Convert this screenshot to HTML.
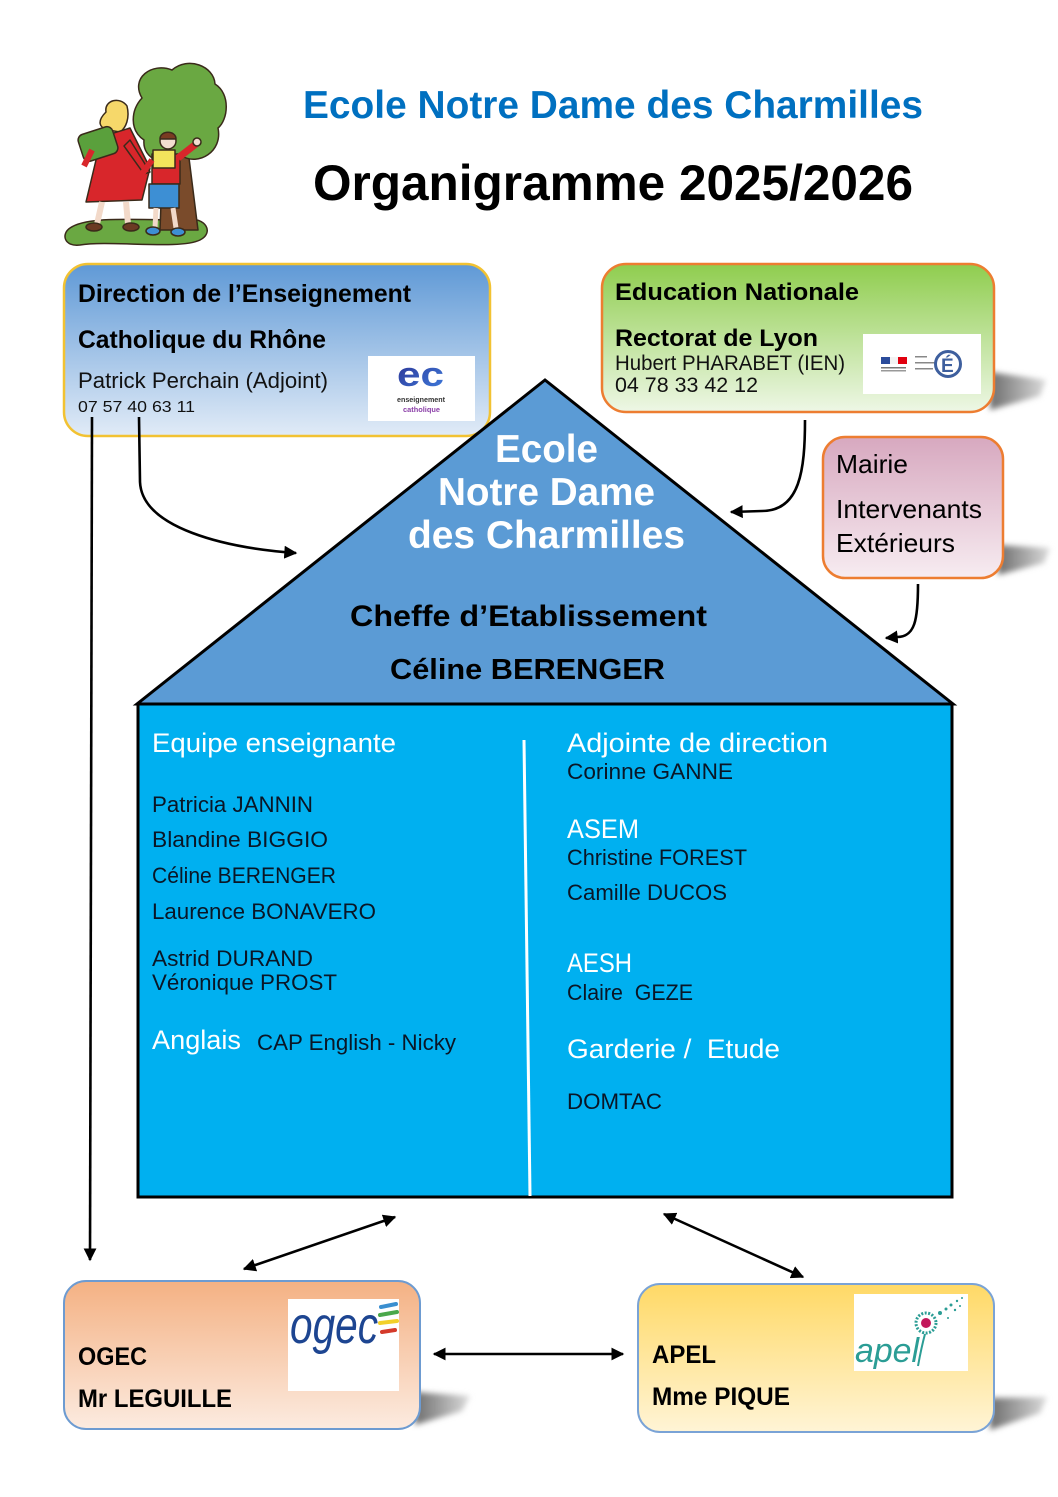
<!DOCTYPE html>
<html><head><meta charset="utf-8"><style>
html,body{margin:0;padding:0;background:#fff;}
svg{display:block;}
text{font-family:"Liberation Sans",Arial,sans-serif;}
</style></head><body>
<svg width="1058" height="1497" viewBox="0 0 1058 1497" xmlns="http://www.w3.org/2000/svg">
<defs>
<linearGradient id="gDir" x1="0" y1="0" x2="0" y2="1"><stop offset="0" stop-color="#5f99d6"/><stop offset="1" stop-color="#e1ebf7"/></linearGradient>
<linearGradient id="gEdu" x1="0" y1="0" x2="0" y2="1"><stop offset="0" stop-color="#8fcd4e"/><stop offset="1" stop-color="#eef7e6"/></linearGradient>
<linearGradient id="gMai" x1="0" y1="0" x2="0" y2="1"><stop offset="0" stop-color="#d7a8bf"/><stop offset="1" stop-color="#f7ecf1"/></linearGradient>
<linearGradient id="gOg" x1="0" y1="0" x2="0" y2="1"><stop offset="0" stop-color="#f4b183"/><stop offset="1" stop-color="#fcebe0"/></linearGradient>
<linearGradient id="gAp" x1="0" y1="0" x2="0" y2="1"><stop offset="0" stop-color="#ffd966"/><stop offset="1" stop-color="#fff4d6"/></linearGradient>
<linearGradient id="gSh" x1="0" y1="0" x2="1" y2="0"><stop offset="0" stop-color="#6e6e6e"/><stop offset="1" stop-color="#dcdcdc"/></linearGradient>
<linearGradient id="gEc" x1="0" y1="0" x2="1" y2="1"><stop offset="0" stop-color="#2b2f8f"/><stop offset="1" stop-color="#3f7fe0"/></linearGradient>
<filter id="bl" x="-20%" y="-50%" width="140%" height="200%"><feGaussianBlur stdDeviation="3"/></filter>
<marker id="ah" viewBox="0 0 10 10" refX="9" refY="5" markerWidth="5" markerHeight="5" orient="auto-start-reverse" markerUnits="strokeWidth"><path d="M0,0 L10,5 L0,10 Z" fill="#000"/></marker>
</defs>

<!-- Logo drawing -->
<g stroke="#3a2a1a" stroke-width="1.5" stroke-linejoin="round">
  <path d="M70 228 C 90 214, 150 222, 185 219 C 207 217, 214 233, 200 240 C 180 250, 110 240, 80 245 C 64 247, 61 234, 70 228 Z" fill="#6aa842"/>
  <path d="M163 150 L188 150 L198 230 L160 230 Z" fill="#7a4b2b"/>
  <path d="M142 98 C 130 78, 152 62, 172 70 C 188 56, 214 66, 215 84 C 231 94, 228 120, 218 128 C 223 152, 198 166, 182 156 C 166 168, 142 160, 144 140 C 129 130, 131 110, 142 98 Z" fill="#6aa842"/>
  <!-- girl -->
  <path d="M106 112 C 104 100, 120 96, 127 106 C 130 118, 126 128, 120 132 L108 130 C 100 128, 96 122, 106 112 Z" fill="#f6d86a"/>
  <path d="M104 136 L130 128 L150 168 L142 200 L86 202 L96 160 Z" fill="#d8262b"/>
  <path d="M130 140 L150 172 L144 174 L124 146 Z" fill="#d8262b"/>
  <rect x="80" y="130" width="36" height="28" rx="6" transform="rotate(-18 98 144)" fill="#5aa03c"/>
  <path d="M102 202 L97 224 M126 202 L128 224" stroke="#f2d9c9" stroke-width="6"/>
  <ellipse cx="94" cy="227" rx="8" ry="4" fill="#6b3a23"/>
  <ellipse cx="131" cy="227" rx="8" ry="4" fill="#6b3a23"/>
  <path d="M92 150 L84 166" stroke="#d8262b" stroke-width="6"/>
  <!-- boy -->
  <circle cx="168" cy="141" r="8" fill="#f3ddd0"/>
  <path d="M160 139 C 160 130, 176 130, 176 139 Z" fill="#7a3b22"/>
  <rect x="152" y="154" width="28" height="30" fill="#d8262b"/>
  <rect x="153" y="150" width="22" height="18" fill="#f2e45c"/>
  <path d="M178 158 L196 144" stroke="#d8262b" stroke-width="7"/>
  <circle cx="197" cy="142" r="4" fill="#f3ddd0"/>
  <path d="M152 160 L142 174" stroke="#d8262b" stroke-width="6"/>
  <rect x="149" y="184" width="30" height="24" fill="#3d8fd4"/>
  <path d="M156 208 L155 228 M173 208 L176 228" stroke="#f2d9c9" stroke-width="5"/>
  <ellipse cx="153" cy="231" rx="7" ry="4" fill="#3d8fd4"/>
  <ellipse cx="178" cy="232" rx="7" ry="4" fill="#3d8fd4"/>
</g>

<!-- Titles -->
<text x="303" y="118" font-size="39" font-weight="bold" fill="#0070c0" textLength="620" lengthAdjust="spacingAndGlyphs">Ecole Notre Dame des Charmilles</text>
<text x="313" y="200" font-size="50" font-weight="bold" fill="#000" textLength="600" lengthAdjust="spacingAndGlyphs">Organigramme 2025/2026</text>

<!-- shadows -->
<polygon points="990,372 1046,380 1040,396 990,410" fill="url(#gSh)" filter="url(#bl)"/>
<polygon points="998,545 1050,548 1044,563 998,575" fill="url(#gSh)" filter="url(#bl)"/>
<polygon points="415,1392 470,1396 462,1411 415,1425" fill="url(#gSh)" filter="url(#bl)"/>
<polygon points="990,1398 1047,1397 1040,1413 990,1430" fill="url(#gSh)" filter="url(#bl)"/>

<!-- Direction box -->
<rect x="64" y="264" width="426" height="172" rx="24" fill="url(#gDir)" stroke="#f2c232" stroke-width="2.5"/>
<text x="78" y="302" font-size="25" font-weight="bold" fill="#000" textLength="333" lengthAdjust="spacingAndGlyphs">Direction de l’Enseignement</text>
<text x="78" y="348" font-size="25" font-weight="bold" fill="#000" textLength="248" lengthAdjust="spacingAndGlyphs">Catholique du Rhône</text>
<text x="78" y="388" font-size="22" fill="#111" textLength="250" lengthAdjust="spacingAndGlyphs">Patrick Perchain (Adjoint)</text>
<text x="78" y="412" font-size="16" fill="#111" textLength="117" lengthAdjust="spacingAndGlyphs">07 57 40 63 11</text>
<rect x="368" y="356" width="107" height="65" fill="#fff"/>
<text x="397" y="386" font-size="34" font-weight="bold" fill="url(#gEc)" textLength="47" lengthAdjust="spacingAndGlyphs">ec</text>
<text x="397" y="402" font-size="7.5" font-weight="bold" fill="#333" textLength="48" lengthAdjust="spacingAndGlyphs">enseignement</text>
<text x="403" y="412" font-size="7.5" font-weight="bold" fill="#8b3fa8" textLength="37" lengthAdjust="spacingAndGlyphs">catholique</text>

<!-- Education Nationale -->
<rect x="602" y="264" width="392" height="148" rx="24" fill="url(#gEdu)" stroke="#ed7d31" stroke-width="2.5"/>
<text x="615" y="300" font-size="24" font-weight="bold" fill="#000" textLength="244" lengthAdjust="spacingAndGlyphs">Education Nationale</text>
<text x="615" y="346" font-size="24" font-weight="bold" fill="#000" textLength="203" lengthAdjust="spacingAndGlyphs">Rectorat de Lyon</text>
<text x="615" y="370" font-size="21" fill="#111" textLength="230" lengthAdjust="spacingAndGlyphs">Hubert PHARABET (IEN)</text>
<text x="615" y="392" font-size="21" fill="#111" textLength="143" lengthAdjust="spacingAndGlyphs">04 78 33 42 12</text>
<rect x="863" y="334" width="118" height="60" fill="#fff"/>
<rect x="881" y="357" width="9" height="7" fill="#2b4c9b"/>
<rect x="890" y="357" width="8" height="7" fill="#f2f2f2"/>
<rect x="898" y="357" width="9" height="7" fill="#e1000f"/>
<rect x="881" y="367" width="25" height="1.5" fill="#777"/>
<rect x="881" y="370" width="25" height="1.5" fill="#999"/>
<rect x="915" y="356" width="12" height="1.5" fill="#888"/>
<rect x="915" y="362" width="20" height="1.5" fill="#888"/>
<rect x="915" y="368" width="18" height="1.5" fill="#888"/>
<circle cx="948" cy="364" r="12.5" fill="none" stroke="#3e5f9e" stroke-width="3"/>
<text x="941" y="372" font-size="19" font-weight="bold" fill="#3e5f9e">É</text>

<!-- Mairie -->
<rect x="823" y="437" width="180" height="141" rx="22" fill="url(#gMai)" stroke="#ed7d31" stroke-width="2.5"/>
<text x="836" y="473" font-size="26" fill="#000" textLength="72" lengthAdjust="spacingAndGlyphs">Mairie</text>
<text x="836" y="518" font-size="26" fill="#000" textLength="146" lengthAdjust="spacingAndGlyphs">Intervenants</text>
<text x="836" y="552" font-size="26" fill="#000" textLength="119" lengthAdjust="spacingAndGlyphs">Extérieurs</text>

<!-- House -->
<rect x="138" y="704" width="814" height="493" fill="#00b0f0" stroke="#000" stroke-width="3"/>
<polygon points="545,380 137,704 953,704" fill="#5b9bd5" stroke="#000" stroke-width="3" stroke-linejoin="miter"/>
<line x1="524" y1="740" x2="530" y2="1196" stroke="#fff" stroke-width="3"/>

<text x="495" y="462" font-size="39" font-weight="bold" fill="#fff" textLength="103" lengthAdjust="spacingAndGlyphs">Ecole</text>
<text x="438" y="505" font-size="39" font-weight="bold" fill="#fff" textLength="217" lengthAdjust="spacingAndGlyphs">Notre Dame</text>
<text x="408" y="548" font-size="39" font-weight="bold" fill="#fff" textLength="277" lengthAdjust="spacingAndGlyphs">des Charmilles</text>
<text x="350" y="626" font-size="30" font-weight="bold" fill="#000" textLength="357" lengthAdjust="spacingAndGlyphs">Cheffe d’Etablissement</text>
<text x="390" y="679" font-size="29" font-weight="bold" fill="#000" textLength="275" lengthAdjust="spacingAndGlyphs">Céline BERENGER</text>

<g fill="#0a1626" font-size="22">
<text x="152" y="752" font-size="27" fill="#fff" textLength="244" lengthAdjust="spacingAndGlyphs">Equipe enseignante</text>
<text x="152" y="812" textLength="161" lengthAdjust="spacingAndGlyphs">Patricia JANNIN</text>
<text x="152" y="847" textLength="176" lengthAdjust="spacingAndGlyphs">Blandine BIGGIO</text>
<text x="152" y="883" textLength="184" lengthAdjust="spacingAndGlyphs">Céline BERENGER</text>
<text x="152" y="919" textLength="224" lengthAdjust="spacingAndGlyphs">Laurence BONAVERO</text>
<text x="152" y="966" textLength="161" lengthAdjust="spacingAndGlyphs">Astrid DURAND</text>
<text x="152" y="990" textLength="185" lengthAdjust="spacingAndGlyphs">Véronique PROST</text>
<text x="152" y="1049" font-size="27" fill="#fff" textLength="89" lengthAdjust="spacingAndGlyphs">Anglais</text>
<text x="257" y="1050" textLength="199" lengthAdjust="spacingAndGlyphs">CAP English - Nicky</text>

<text x="567" y="752" font-size="27" fill="#fff" textLength="261" lengthAdjust="spacingAndGlyphs">Adjointe de direction</text>
<text x="567" y="779" textLength="166" lengthAdjust="spacingAndGlyphs">Corinne GANNE</text>
<text x="567" y="838" font-size="27" fill="#fff" textLength="72" lengthAdjust="spacingAndGlyphs">ASEM</text>
<text x="567" y="865" textLength="180" lengthAdjust="spacingAndGlyphs">Christine FOREST</text>
<text x="567" y="900" textLength="160" lengthAdjust="spacingAndGlyphs">Camille DUCOS</text>
<text x="567" y="972" font-size="27" fill="#fff" textLength="65" lengthAdjust="spacingAndGlyphs">AESH</text>
<text x="567" y="1000" textLength="126" lengthAdjust="spacingAndGlyphs">Claire&#160; GEZE</text>
<text x="567" y="1058" font-size="27" fill="#fff" textLength="213" lengthAdjust="spacingAndGlyphs">Garderie /&#160; Etude</text>
<text x="567" y="1109" textLength="95" lengthAdjust="spacingAndGlyphs">DOMTAC</text>
</g>

<!-- Connectors -->
<g fill="none" stroke="#000" stroke-width="2.6">
<path d="M92 417 L90 1260" marker-end="url(#ah)"/>
<path d="M139 417 L140 482 C 142 528, 225 548, 296 553" marker-end="url(#ah)"/>
<path d="M805 420 C 805 470, 800 511, 762 511 L 731 512" marker-end="url(#ah)"/>
<path d="M918 584 C 918 620, 915 637, 897 637 L 886 638" marker-end="url(#ah)"/>
<path d="M244 1269 L 395 1217" marker-start="url(#ah)" marker-end="url(#ah)"/>
<path d="M664 1214 L 803 1277" marker-start="url(#ah)" marker-end="url(#ah)"/>
<path d="M434 1354 L 623 1354" marker-start="url(#ah)" marker-end="url(#ah)"/>
</g>

<!-- OGEC -->
<rect x="64" y="1281" width="356" height="148" rx="22" fill="url(#gOg)" stroke="#6d9bd1" stroke-width="2"/>
<text x="78" y="1365" font-size="25" font-weight="bold" fill="#000" textLength="69" lengthAdjust="spacingAndGlyphs">OGEC</text>
<text x="78" y="1407" font-size="25" font-weight="bold" fill="#000" textLength="154" lengthAdjust="spacingAndGlyphs">Mr LEGUILLE</text>
<rect x="288" y="1299" width="111" height="92" fill="#fff"/>
<text x="290" y="1343" font-size="52" fill="#1d4591" font-style="italic" textLength="88" lengthAdjust="spacingAndGlyphs">ogec</text>
<g stroke-width="4" stroke-linecap="round" fill="none">
<path d="M381 1307 L396 1304" stroke="#3a8fd0"/>
<path d="M380 1315 L397 1312" stroke="#4aa84a"/>
<path d="M380 1323 L397 1321" stroke="#f2d02a"/>
<path d="M382 1332 L395 1330" stroke="#d43a2a"/>
</g>

<!-- APEL -->
<rect x="638" y="1284" width="356" height="148" rx="22" fill="url(#gAp)" stroke="#7aa3d6" stroke-width="2"/>
<text x="652" y="1363" font-size="25" font-weight="bold" fill="#000" textLength="64" lengthAdjust="spacingAndGlyphs">APEL</text>
<text x="652" y="1405" font-size="25" font-weight="bold" fill="#000" textLength="138" lengthAdjust="spacingAndGlyphs">Mme PIQUE</text>
<rect x="854" y="1294" width="114" height="77" fill="#fff"/>
<text x="855" y="1362" font-size="34" font-style="italic" fill="#2b9d95" textLength="64" lengthAdjust="spacingAndGlyphs">apel</text>
<path d="M925 1334 C 922 1345, 920 1355, 918 1366" stroke="#2b9d95" stroke-width="2" fill="none"/>
<circle cx="926" cy="1323" r="10" fill="none" stroke="#2b9d95" stroke-width="3" stroke-dasharray="2 1.5"/>
<circle cx="926" cy="1323" r="5" fill="#c2185b"/>
<g fill="#2b9d95">
<circle cx="940" cy="1313" r="2"/><circle cx="946" cy="1309" r="1.5"/><circle cx="951" cy="1305" r="1.5"/>
<circle cx="957" cy="1301" r="1.2"/><circle cx="962" cy="1298" r="1"/><circle cx="955" cy="1310" r="1.2"/>
<circle cx="948" cy="1318" r="1"/><circle cx="960" cy="1306" r="1"/>
</g>
</svg>
</body></html>
